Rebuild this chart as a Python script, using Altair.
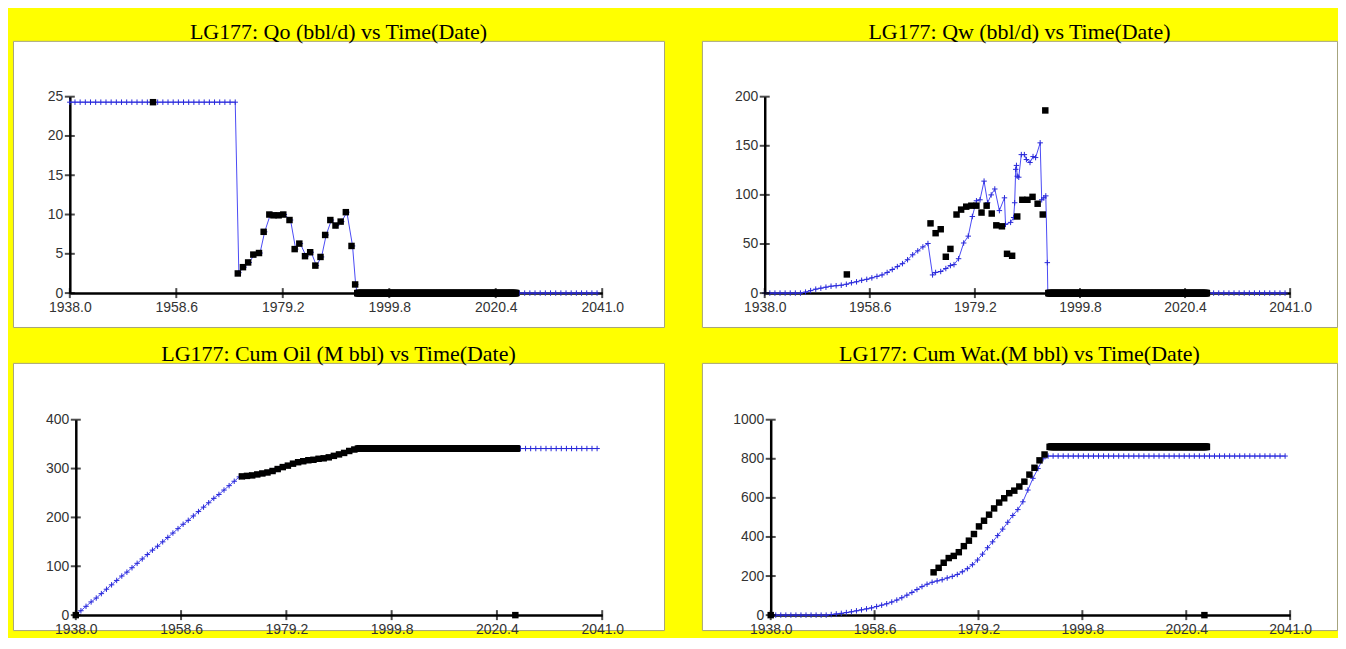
import altair as alt
import pandas as pd

# ---------------- data ----------------
XTICKS = [1938.0, 1958.6, 1979.2, 1999.8, 2020.4, 2041.0]

# --- Qo (bbl/d) ---
qo_obs_t = [1954.1, 1970.5, 1971.5, 1972.5, 1973.5, 1974.6, 1975.5, 1976.6, 1977.4, 1978.4,
            1979.3, 1980.5, 1981.5, 1982.4, 1983.5, 1984.5, 1985.5, 1986.5, 1987.4, 1988.4,
            1989.4, 1990.4, 1991.4, 1992.5, 1993.2]
qo_obs_v = [24.3, 2.5, 3.3, 3.9, 4.9, 5.1, 7.8, 10.0, 9.9, 9.9,
            10.0, 9.3, 5.6, 6.3, 4.7, 5.2, 3.5, 4.6, 7.4, 9.3,
            8.6, 9.1, 10.3, 6.0, 1.1]
qo_zero_t = [round(1993.6 + i / 12, 3) for i in range(370)]
qo_zero_v = [0.0] * len(qo_zero_t)
qo_sim_t = list(range(1938, 1971)) + [
    1970.7, 1971.7, 1972.7, 1973.7, 1974.8, 1975.7, 1976.8, 1977.6, 1978.6,
    1979.5, 1980.7, 1981.7, 1982.6, 1983.7, 1984.7, 1985.7, 1986.7, 1987.6, 1988.6,
    1989.6, 1990.6, 1991.6, 1992.7, 1993.3, 1993.6] + list(range(1994, 2041))
qo_sim_v = [24.3] * 33 + [
    2.6, 3.3, 3.9, 4.9, 5.1, 7.8, 10.0, 9.9, 9.9,
    10.0, 9.3, 5.6, 6.3, 4.7, 5.2, 3.5, 4.6, 7.4, 9.3,
    8.6, 9.1, 10.3, 6.0, 1.1, 0.0] + [0.0] * 47

# --- Qw (bbl/d) ---
qw_obs_t = [1954.1, 1970.5, 1971.5, 1972.5, 1973.5, 1974.4, 1975.6, 1976.5, 1977.5, 1978.5,
            1979.5, 1980.5, 1981.5, 1982.5, 1983.4, 1984.5, 1985.5, 1986.5, 1987.5, 1988.5,
            1989.5, 1990.5, 1991.5, 1992.5, 1993.0]
qw_obs_v = [19, 71, 61, 65, 37, 45, 80, 85, 88, 89,
            89, 82, 89, 81, 69, 68, 40, 38, 78, 95,
            95, 98, 91, 80, 186]
qw_zero_t = [round(1993.6 + i / 12, 3) for i in range(374)]
qw_zero_v = [0.0] * len(qw_zero_t)
qw_sim_t = list(range(1938, 1946)) + [
    1946, 1947, 1948, 1949, 1950, 1951, 1952, 1953, 1954, 1955, 1956, 1957, 1958,
    1959, 1960, 1961, 1962, 1963, 1964, 1965, 1966, 1967, 1968, 1969, 1970,
    1970.9, 1971.5, 1972.5, 1973.5, 1974.4, 1975.1, 1976.0, 1977.0, 1977.9, 1978.7,
    1979.5, 1980.2, 1981.0, 1981.7, 1982.4, 1983.1, 1984.0, 1985.0, 1985.2, 1986.2,
    1986.8, 1987.0, 1987.2, 1987.35, 1987.5, 1987.8, 1988.3, 1988.9, 1989.3, 1990.0,
    1990.6, 1991.1, 1992.0, 1992.3, 1992.7, 1993.1, 1993.4, 1993.5] + list(range(1994, 2041))
qw_sim_v = [0] * 8 + [
    1, 2.5, 4, 5, 6, 7, 7.5, 8, 9, 10.5, 11.5, 13, 14,
    15.5, 17, 18.5, 21, 24, 27, 30, 34, 39, 43, 47, 50.5,
    18.5, 21, 22, 25, 28, 29, 35, 51, 58, 78,
    94, 95, 114, 92, 100, 106, 84, 97, 70, 72,
    77, 92, 126, 130, 119, 118, 141, 141, 136, 133,
    139, 138, 153, 95, 97, 99, 31, 0] + [0] * 47

# --- Cum Oil (M bbl) ---
co_obs_t = [1938.0, 1970.5, 1971.5, 1972.5, 1973.5, 1974.5, 1975.5, 1976.5, 1977.5, 1978.5,
            1979.5, 1980.5, 1981.5, 1982.5, 1983.5, 1984.5, 1985.5, 1986.5, 1987.5, 1988.5,
            1989.5, 1990.5, 1991.5, 1992.5, 1993.2, 2024.0]
co_obs_v = [0, 284, 285, 286, 288, 290, 292, 295, 299, 303,
            306, 310, 313, 315, 317, 318, 320, 321, 323, 326,
            329, 332, 336, 339, 341, 0]
co_flat_t = [round(1993.5 + i / 12, 3) for i in range(371)]
co_flat_v = [341] * len(co_flat_t)
co_sim_t = list(range(1938, 1971)) + [
    1971, 1972, 1973, 1974, 1975, 1976, 1977, 1978, 1979, 1980, 1981, 1982,
    1983, 1984, 1985, 1986, 1987, 1988, 1989, 1990, 1991, 1992, 1993] + list(range(1994, 2041))
co_sim_v = [0, 9, 18, 27, 35, 44, 53, 62, 71, 80, 88, 97, 106, 115, 124, 133, 141,
            150, 159, 168, 177, 186, 194, 203, 212, 221, 230, 239, 247, 256, 265, 274, 283] + [
    284, 285, 287, 289, 291, 294, 297, 301, 305, 308, 312, 314,
    316, 318, 319, 320, 322, 325, 328, 331, 334, 338, 341] + [341] * 47

# --- Cum Water (M bbl) ---
cw_obs_t = [1938.0, 1970.3, 1971.3, 1972.3, 1973.3, 1974.3, 1975.3, 1976.3, 1977.3, 1978.3,
            1979.3, 1980.3, 1981.3, 1982.3, 1983.3, 1984.3, 1985.3, 1986.3, 1987.3, 1988.3,
            1989.3, 1990.3, 1991.3, 1992.3, 1993.3, 2024.0]
cw_obs_v = [0, 219, 242, 268, 292, 303, 322, 353, 381, 415,
            454, 483, 514, 546, 576, 598, 624, 637, 658, 683,
            719, 754, 792, 822, 861, 0]
cw_flat_t = [round(1993.5 + i / 12, 3) for i in range(373)]
cw_flat_v = [861] * len(cw_flat_t)
cw_sim_t = list(range(1938, 1950)) + [
    1950, 1951, 1952, 1953, 1954, 1955, 1956, 1957, 1958, 1959, 1960, 1961, 1962,
    1963, 1964, 1965, 1966, 1967, 1968, 1969, 1970, 1971, 1972, 1973, 1974, 1975,
    1976, 1977, 1978, 1979, 1980, 1981, 1982, 1983, 1984, 1985, 1986, 1987, 1988,
    1989, 1990, 1991, 1992, 1992.6] + list(range(1993, 2041))
cw_sim_v = [0] * 12 + [
    3, 6, 9, 13, 17, 22, 27, 32, 37, 44, 51, 58, 67,
    77, 89, 102, 116, 131, 146, 158, 168, 175, 181, 190, 198, 208,
    222, 238, 258, 282, 312, 345, 375, 407, 440, 475, 510, 540, 580,
    640, 700, 750, 800, 814] + [814] * 48

# ---------------- styling ----------------
BLUE_LINE = "#4a4af5"
BLUE_MARK = "#2828d8"
PLUS = "M-1,0L1,0M0,-1L0,1"
H_TOP, H_BOT = 287, 268
LABEL_FONT = "Liberation Sans Narrow, Liberation Sans, Arial, sans-serif"


def panel(title, sim_t, sim_v, obs_sets, ymax, yticks, xr, yr, width, height):
    xs = alt.Scale(domain=[1938, 2041], range=xr, nice=False, zero=False)
    ys = alt.Scale(domain=[0, ymax], range=yr, nice=False, zero=False)
    xax = alt.Axis(values=XTICKS, format=".1f", grid=False, ticks=False, tickSize=0,
                   domainColor="black", domainWidth=2.5, labelFont=LABEL_FONT,
                   labelFontSize=14, labelColor="#333333", labelPadding=7,
                   labelFlush=False, labelOverlap=False, offset=-(height - yr[0]), title=None)
    yax = alt.Axis(values=yticks, format="d", grid=False, ticks=False, tickSize=0,
                   domainColor="black", domainWidth=2.5, labelFont=LABEL_FONT,
                   labelFontSize=14, labelColor="#333333", labelPadding=7,
                   labelFlush=False, labelOverlap=False, offset=-xr[0], title=None)

    def enc(ch):
        return ch.encode(
            x=alt.X("t:Q", scale=xs, axis=xax),
            y=alt.Y("v:Q", scale=ys, axis=yax),
        )

    sim = pd.DataFrame({"t": sim_t, "v": sim_v})
    layers = [
        enc(alt.Chart(sim).mark_line(color=BLUE_LINE, strokeWidth=1)),
        enc(alt.Chart(sim).mark_point(shape=PLUS, size=30, filled=False,
                                      color=BLUE_MARK, strokeWidth=1, opacity=1)),
    ]
    for ot, ov in obs_sets:
        obs = pd.DataFrame({"t": ot, "v": ov})
        layers.append(enc(alt.Chart(obs).mark_square(size=42, color="black",
                                                      filled=True, opacity=1)))
    xt = pd.DataFrame({"t": XTICKS, "v": [0] * len(XTICKS)})
    yt = pd.DataFrame({"t": [1938.0] * len(yticks), "v": yticks})
    layers.append(enc(alt.Chart(xt).mark_tick(orient="vertical", size=10,
                                              thickness=2, color="black")))
    layers.append(enc(alt.Chart(yt).mark_tick(orient="horizontal", size=10,
                                              thickness=2, color="black")))
    return alt.layer(*layers).properties(
        width=width, height=height,
        title=alt.TitleParams(title, font="Liberation Serif", fontSize=22,
                              fontWeight="normal", color="black", offset=-3,
                              anchor="middle"),
    )


p1 = panel("LG177: Qo (bbl/d) vs Time(Date)", qo_sim_t, qo_sim_v,
           [(qo_obs_t, qo_obs_v), (qo_zero_t, qo_zero_v)],
           25, [0, 5, 10, 15, 20, 25], [57, 591], [253, 56], 653, H_TOP)
p2 = panel("LG177: Qw (bbl/d) vs Time(Date)", qw_sim_t, qw_sim_v,
           [(qw_obs_t, qw_obs_v), (qw_zero_t, qw_zero_v)],
           200, [0, 50, 100, 150, 200], [63, 590], [253, 56], 637, H_TOP)
p3 = panel("LG177: Cum Oil (M bbl) vs Time(Date)", co_sim_t, co_sim_v,
           [(co_obs_t, co_obs_v), (co_flat_t, co_flat_v)],
           400, [0, 100, 200, 300, 400], [63, 591], [253, 57], 653, H_BOT)
p4 = panel("LG177: Cum Wat.(M bbl) vs Time(Date)", cw_sim_t, cw_sim_v,
           [(cw_obs_t, cw_obs_v), (cw_flat_t, cw_flat_v)],
           1000, [0, 200, 400, 600, 800, 1000], [69, 590], [253, 57], 637, H_BOT)

chart = alt.vconcat(
    alt.hconcat(p1, p2, spacing=36),
    alt.hconcat(p3, p4, spacing=36),
    spacing=14,
).properties(
    padding={"left": 4, "top": 11, "right": 0, "bottom": 0},
).configure(
    background="#ffff00",
).configure_view(
    fill="white", stroke="#a6a47c", strokeWidth=1,
)

chart.save("out.html", embed_options={"renderer": "svg", "actions": False})
